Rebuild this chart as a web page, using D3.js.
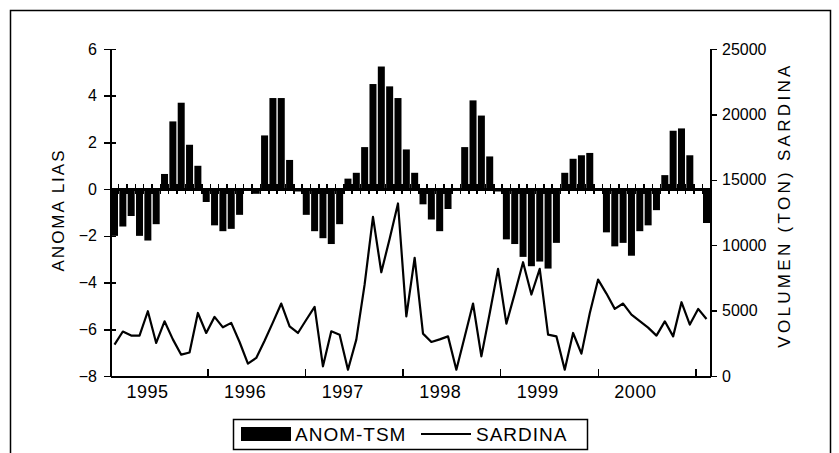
<!DOCTYPE html>
<meta charset="utf-8">
<head>
<style>
body { margin: 0; background: #fff; }
text { font-family: "Liberation Sans", Arial, sans-serif; fill: #000; }
.axis path, .axis line { stroke: #000; shape-rendering: crispEdges; }
.axis text { font-size: 16px; }
.years text { font-size: 18px; letter-spacing: 0.5px; }
</style>
</head>
<body>
<script src="https://cdn.jsdelivr.net/npm/d3@7"></script>
<script>
// monthly SST anomaly (bars), left axis
var anomTsm = [-2.0, -1.6, -1.15, -2.0, -2.2, -1.5, 0.65, 2.9, 3.7, 1.9, 1.0, -0.55,
               -1.55, -1.8, -1.7, -1.1, -0.05, -0.2, 2.3, 3.9, 3.9, 1.25, -0.1, -1.1,
               -1.8, -2.1, -2.35, -1.5, 0.45, 0.7, 1.8, 4.5, 5.25, 4.4, 3.9, 1.7,
               0.7, -0.65, -1.3, -1.8, -0.85, 0.05, 1.8, 3.8, 3.15, 1.4, -0.1, -2.15,
               -2.35, -2.9, -3.3, -3.1, -3.4, -2.3, 0.7, 1.3, 1.45, 1.55, -0.05, -1.85,
               -2.45, -2.3, -2.85, -1.8, -1.55, -0.9, 0.6, 2.5, 2.6, 1.45, -0.05, -1.45];
// monthly sardine landings (tons), right axis
var sardina = [2400, 3400, 3090, 3090, 4950, 2530, 4180, 2800, 1630, 1800, 4820, 3290,
               4520, 3720, 4060, 2600, 940, 1380, 2700, 4100, 5540, 3800, 3290, 4300,
               5280, 740, 3420, 3160, 480, 2780, 7000, 12170, 7930, 10500, 13190, 4560,
               9040, 3240, 2600, 2800, 3030, 480, 3000, 5540, 1500, 4800, 8190, 4000,
               6300, 8700, 6230, 8190, 3160, 3030, 480, 3290, 1710, 4800, 7370, 6300,
               5130, 5540, 4690, 4200, 3700, 3090, 4180, 3030, 5640, 3930, 5130, 4360];
var years = [1995, 1996, 1997, 1998, 1999, 2000];
var leftTicks = [6, 4, 2, 0, -2, -4, -6, -8];
var rightTicks = [0, 5000, 10000, 15000, 20000, 25000];

var W = 839, H = 453;
var plot = { left: 110, right: 710, top: 49, bottom: 376 };

var svg = d3.select("body").append("svg")
    .attr("width", W)
    .attr("height", H);

// outer frame
svg.append("rect")
    .attr("x", 10.5).attr("y", 10.5)
    .attr("width", 820).attr("height", 460)
    .attr("fill", "none").attr("stroke", "#000").attr("stroke-width", 1.5);

var x = d3.scaleBand()
    .domain(d3.range(anomTsm.length))
    .range([plot.left + 1, plot.right])
    .paddingInner(0.16);

var yL = d3.scaleLinear().domain([-8, 6]).range([plot.bottom, plot.top]);
var yR = d3.scaleLinear().domain([0, 25000]).range([plot.bottom, plot.top]);

// year axis is its own scale (ticks do not sit on bar boundaries)
var yr = d3.scaleLinear().domain([1994.62, 2000.77]).range([plot.left, plot.right]);

// bars
svg.selectAll(".bar")
    .data(anomTsm)
    .enter().append("rect")
    .attr("class", "bar")
    .attr("x", function (d, i) { return x(i); })
    .attr("width", x.bandwidth())
    .attr("y", function (d) { return yL(Math.max(0, d)); })
    .attr("height", function (d) { return Math.abs(yL(d) - yL(0)); })
    .attr("fill", "#000");

// zero category axis with crossing ticks
var zeroAxis = svg.append("g").attr("class", "axis");
zeroAxis.append("line")
    .attr("x1", plot.left).attr("x2", plot.right)
    .attr("y1", yL(0)).attr("y2", yL(0))
    .attr("stroke-width", 3);
zeroAxis.selectAll(".ct")
    .data(d3.range(1, anomTsm.length))
    .enter().append("line")
    .attr("x1", function (d) { return x(d) - x.step() * x.paddingInner() / 2; })
    .attr("x2", function (d) { return x(d) - x.step() * x.paddingInner() / 2; })
    .attr("y1", yL(0) - 5).attr("y2", yL(0) + 5)
    .attr("stroke-width", 1.5);

// sardine line
var line = d3.line()
    .x(function (d, i) { return x(i) + x.bandwidth() / 2; })
    .y(function (d) { return yR(d); });

svg.append("path")
    .datum(sardina)
    .attr("d", line)
    .attr("fill", "none")
    .attr("stroke", "#000")
    .attr("stroke-width", 2.2)
    .attr("stroke-linejoin", "round");

// left axis
var gl = svg.append("g").attr("class", "axis")
    .attr("transform", "translate(" + plot.left + ",0)")
    .call(d3.axisLeft(yL).tickValues(leftTicks).tickSize(6).tickPadding(7).tickSizeOuter(0));
gl.select(".domain").attr("stroke-width", 2);
gl.selectAll(".tick line").attr("x2", 6).attr("x1", -6).attr("stroke-width", 1.5);

// right axis
var gr = svg.append("g").attr("class", "axis")
    .attr("transform", "translate(" + plot.right + ",0)")
    .call(d3.axisRight(yR).tickValues(rightTicks).tickSize(7).tickPadding(5).tickSizeOuter(0)
        .tickFormat(d3.format("d")));
gr.select(".domain").attr("stroke-width", 2);
gr.selectAll(".tick line").attr("stroke-width", 1.5);

// bottom axis: tick marks
var gb = svg.append("g").attr("class", "axis")
    .attr("transform", "translate(0," + plot.bottom + ")")
    .call(d3.axisTop(yr).tickValues(years.map(function (d) { return d + 0.62; }))
        .tickSize(7).tickSizeOuter(0).tickFormat(""));
gb.select(".domain").attr("stroke-width", 2);
gb.selectAll(".tick line").attr("stroke-width", 1.5);

// bottom axis: labels
svg.append("g").attr("class", "axis years")
    .attr("transform", "translate(0," + plot.bottom + ")")
    .call(d3.axisBottom(yr).tickValues(years).tickSize(0).tickPadding(9).tickFormat(d3.format("d")))
    .select(".domain").remove();

// axis titles
svg.append("text")
    .attr("transform", "translate(64,210) rotate(-90)")
    .attr("text-anchor", "middle")
    .style("font-size", "17px")
    .style("letter-spacing", "2px")
    .text("ANOMA LIAS");

svg.append("text")
    .attr("transform", "translate(790,205) rotate(-90)")
    .attr("text-anchor", "middle")
    .style("font-size", "17px")
    .style("letter-spacing", "3.3px")
    .text("VOLUMEN (TON) SARDINA");

// legend
var lg = svg.append("g").attr("transform", "translate(233,419)");
lg.append("rect")
    .attr("x", 0.5).attr("y", 0.5).attr("width", 354).attr("height", 30)
    .attr("fill", "#fff").attr("stroke", "#000").attr("stroke-width", 1.5);
lg.append("rect")
    .attr("x", 8).attr("y", 8).attr("width", 50).attr("height", 14).attr("fill", "#000");
lg.append("text").attr("x", 62).attr("y", 22)
    .style("font-size", "19px").style("letter-spacing", "1px").text("ANOM-TSM");
lg.append("line")
    .attr("x1", 188).attr("x2", 238).attr("y1", 15).attr("y2", 15)
    .attr("stroke", "#000").attr("stroke-width", 2);
lg.append("text").attr("x", 243).attr("y", 22)
    .style("font-size", "19px").style("letter-spacing", "1px").text("SARDINA");
</script>
</body>
